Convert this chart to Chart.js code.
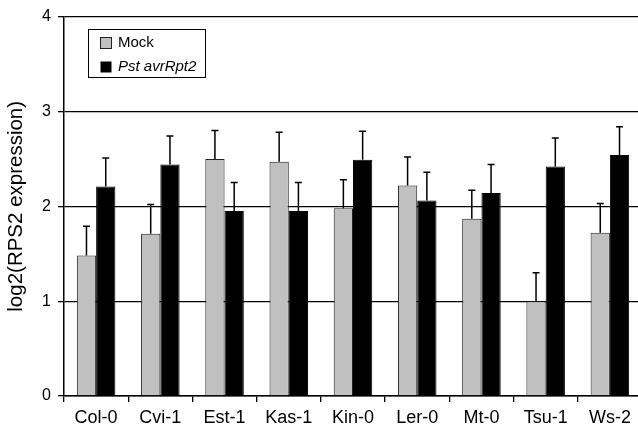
<!DOCTYPE html>
<html>
<head>
<meta charset="utf-8">
<script src="https://cdn.jsdelivr.net/npm/chart.js@4.4.0/dist/chart.umd.min.js"></script>
<style>
  html, body { margin: 0; padding: 0; overflow: hidden; background: #fff; }
</style>
</head>
<body>
<canvas id="myChart" width="645" height="427"></canvas>
<script>
// values
var strains = ['Col-0', 'Cvi-1', 'Est-1', 'Kas-1', 'Kin-0', 'Ler-0', 'Mt-0', 'Tsu-1', 'Ws-2'];
var mockMeans = [1.48, 1.71, 2.50, 2.47, 1.98, 2.22, 1.87, 1.00, 1.72];
var mockErr   = [0.31, 0.31, 0.30, 0.31, 0.30, 0.30, 0.30, 0.30, 0.31];
var pstMeans  = [2.21, 2.44, 1.95, 1.95, 2.49, 2.06, 2.14, 2.42, 2.54];
var pstErr    = [0.30, 0.30, 0.30, 0.30, 0.30, 0.30, 0.30, 0.30, 0.30];
var yTicks = [0, 1, 2, 3, 4];

var FONT = 'Liberation Sans, Arial, sans-serif';

// upper error bars only, from the bar top up to mean + err
var errorBars = {
  id: 'errorBars',
  afterDatasetsDraw: function(chart) {
    var ctx = chart.ctx;
    var y = chart.scales.y;
    ctx.save();
    ctx.strokeStyle = '#000';
    ctx.lineWidth = 1.5;
    chart.data.datasets.forEach(function(ds, i) {
      var meta = chart.getDatasetMeta(i);
      meta.data.forEach(function(bar, j) {
        var top = y.getPixelForValue(ds.data[j] + ds.err[j]);
        ctx.beginPath();
        ctx.moveTo(bar.x, bar.y);
        ctx.lineTo(bar.x, top);
        ctx.moveTo(bar.x - 3.5, top);
        ctx.lineTo(bar.x + 3.5, top);
        ctx.stroke();
      });
    });
    ctx.restore();
  }
};

// boxed legend inside the plot, second label in italics
var boxLegend = {
  id: 'boxLegend',
  afterDraw: function(chart) {
    var ctx = chart.ctx;
    ctx.save();
    ctx.fillStyle = '#fff';
    ctx.fillRect(88.5, 29.5, 117, 48);
    ctx.strokeStyle = '#000';
    ctx.lineWidth = 1;
    ctx.strokeRect(88.5, 29.5, 117, 48);
    ctx.fillStyle = '#c0c0c0';
    ctx.fillRect(100.5, 37.5, 11, 11);
    ctx.strokeStyle = '#222';
    ctx.strokeRect(100.5, 37.5, 11, 11);
    ctx.fillStyle = '#000';
    ctx.fillRect(100.5, 61.5, 11, 11);
    ctx.textBaseline = 'middle';
    ctx.font = '15px ' + FONT;
    ctx.fillText(chart.data.datasets[0].label, 118, 43);
    ctx.font = 'italic 15px ' + FONT;
    ctx.fillText(chart.data.datasets[1].label, 118, 67);
    ctx.restore();
  }
};

new Chart(document.getElementById('myChart').getContext('2d'), {
  type: 'bar',
  data: {
    labels: strains,
    datasets: [{
      label: 'Mock',
      data: mockMeans,
      err: mockErr,
      backgroundColor: '#c0c0c0',
      borderColor: '#222',
      borderWidth: 1
    }, {
      label: 'Pst avrRpt2',
      data: pstMeans,
      err: pstErr,
      backgroundColor: '#000',
      borderColor: '#000',
      borderWidth: 1
    }]
  },
  options: {
    responsive: false,
    animation: false,
    layout: { padding: { top: 15, right: 3, left: 0, bottom: 0 } },
    categoryPercentage: 0.6,
    barPercentage: 1.0,
    plugins: {
      legend: { display: false },
      tooltip: { enabled: false }
    },
    scales: {
      x: {
        grid: { offset: true, drawOnChartArea: false, color: '#000', lineWidth: 1.3, tickLength: 6 },
        border: { color: '#000', width: 1.5 },
        ticks: { color: '#000', font: { family: FONT, size: 18 }, padding: 5 },
        afterFit: function(s) { s.height = 31; }
      },
      y: {
        min: 0,
        max: 4,
        afterBuildTicks: function(s) { s.ticks = yTicks.map(function(v) { return { value: v }; }); },
        grid: { color: '#000', lineWidth: 1.3, tickLength: 6 },
        border: { color: '#000', width: 1.5 },
        ticks: { color: '#000', font: { family: FONT, size: 16 }, padding: 7 },
        title: {
          display: true,
          text: 'log2(RPS2 expression)',
          color: '#000',
          font: { family: FONT, size: 20.5 },
          padding: { top: 4, bottom: 0 }
        },
        afterFit: function(s) { s.width = 64; }
      }
    }
  },
  plugins: [errorBars, boxLegend]
});
</script>
</body>
</html>
